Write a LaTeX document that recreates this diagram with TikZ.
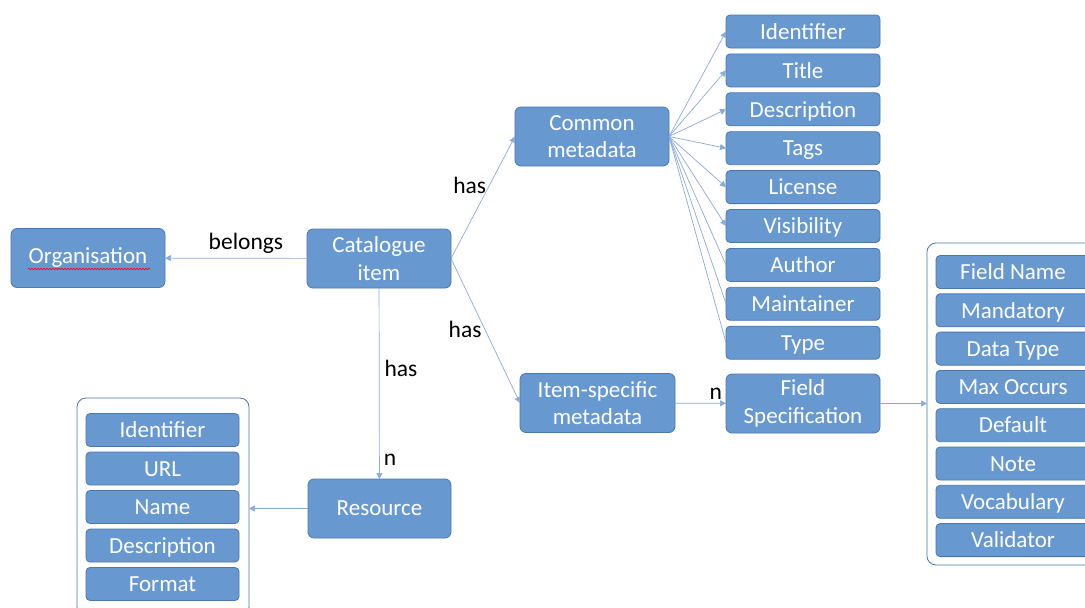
\documentclass[tikz,border=0pt]{standalone}
\usepackage{fontspec}
\setmainfont{Carlito}
\usetikzlibrary{positioning,arrows.meta,decorations.pathmorphing}
\definecolor{boxfill}{HTML}{6799D0}
\definecolor{boxline}{HTML}{4A78AE}
\definecolor{linkblue}{HTML}{8AAAD8}
\begin{document}
\begin{tikzpicture}[x=1pt, y=-1pt,
        box/.style={rectangle, draw=boxline, fill=boxfill, line width=0.8pt, rounded corners=6pt, text=white, minimum width=154pt, minimum height=59pt, align=center, inner sep=2pt, outer sep=0pt, font=\fontsize{23}{27.5}\selectfont},
        field/.style={box, minimum height=33pt, rounded corners=4pt, text height=19.5pt, text depth=4pt},
        group/.style={rectangle, draw=boxline, fill=white, line width=0.8pt, rounded corners=9pt, outer sep=0pt},
        link/.style={draw=linkblue, line width=0.7pt, -{Triangle[length=6pt,width=6pt]}},
        plainlink/.style={draw=linkblue, line width=0.7pt},
        lbl/.style={text=black, inner sep=1pt, font=\fontsize{23.5}{28}\selectfont}
    ]
    \useasboundingbox (0,0) rectangle (1085,608);

    % Main entities
    \node[box] (org) at (88,258) {Organisation};
    \node[box, minimum width=144pt] (item) at (379,258.5) {Catalogue\\item};
    \node[box] (common) at (592,136.5) {Common\\metadata};
    \node[box, minimum width=155pt] (spec) at (597.5,403) {Item-specific\\metadata};
    \node[box] (fspec) at (803,403.5) {Field\\Specification};
    \node[box, minimum width=143pt] (res) at (379.5,508.5) {Resource};

    % spell-check wave under Organisation
    \draw[red, line width=0.6pt, decorate, decoration={snake, amplitude=0.8pt, segment length=3pt}]
        ([xshift=-60pt,yshift=-11pt]org.center) -- ([xshift=62pt,yshift=-11pt]org.center);

    % Common metadata fields
    \node[field] (cid) at (803,31.5) {Identifier};
    \node[field, below=5.9pt of cid] (ctitle) {Title};
    \node[field, below=5.9pt of ctitle] (cdesc) {Description};
    \node[field, below=5.9pt of cdesc] (ctags) {Tags};
    \node[field, below=5.9pt of ctags] (clic) {License};
    \node[field, below=5.9pt of clic] (cvis) {Visibility};
    \node[field, below=5.9pt of cvis] (cauth) {Author};
    \node[field, below=5.9pt of cauth] (cmaint) {Maintainer};
    \node[field, below=5.9pt of cmaint] (ctype) {Type};

    % Resource fields
    \node[group, minimum width=172pt, minimum height=218pt] (resgrp) at (163,507) {};
    \node[field, minimum width=153pt] (rid) at (162.5,430) {Identifier};
    \node[field, minimum width=153pt, below=5.5pt of rid] (rurl) {URL};
    \node[field, minimum width=153pt, below=5.5pt of rurl] (rname) {Name};
    \node[field, minimum width=153pt, below=5.5pt of rname] (rdesc) {Description};
    \node[field, minimum width=153pt, below=5.5pt of rdesc] (rfmt) {Format};

    % Field specification attributes
    \node[group, minimum width=172pt, minimum height=322pt] (fldgrp) at (1013,404) {};
    \node[field] (fname) at (1013,272) {Field Name};
    \node[field, below=5.3pt of fname] (fmand) {Mandatory};
    \node[field, below=5.3pt of fmand] (fdtype) {Data Type};
    \node[field, below=5.3pt of fdtype] (fmax) {Max Occurs};
    \node[field, below=5.3pt of fmax] (fdef) {Default};
    \node[field, below=5.3pt of fdef] (fnote) {Note};
    \node[field, below=5.3pt of fnote] (fvocab) {Vocabulary};
    \node[field, below=5.3pt of fvocab] (fvalid) {Validator};

    % Relationships
    \draw[link] (item) -- node[lbl, pos=0.43, above=3pt] {belongs} (org);
    \draw[link] (item.east) -- node[lbl, pos=0.6, left=2pt] {has} (common.west);
    \draw[link] (item.east) -- node[lbl, pos=0.49, left=2pt] {has} (spec.west);
    \draw[link] (item) -- node[lbl, pos=0.42, right=4pt] {has} node[lbl, pos=0.9, right=3pt] {n} (res);
    \draw[link] (res) -- (res -| resgrp.east);
    \draw[link] (spec) -- node[lbl, pos=0.8, anchor=south, inner sep=0pt, yshift=3pt] {n} (fspec);
    \draw[link] (fspec) -- (fspec -| fldgrp.west);

    \draw[link] (common.east) -- (cid.west);
    \draw[link] (common.east) -- (ctitle.west);
    \draw[link] (common.east) -- (cdesc.west);
    \draw[link] (common.east) -- (ctags.west);
    \draw[link] (common.east) -- (clic.west);
    \draw[link] (common.east) -- (cvis.west);
    \draw[plainlink] (common.east) -- (cauth.west);
    \draw[plainlink] (common.east) -- (cmaint.west);
    \draw[plainlink] (common.east) -- (ctype.west);

\end{tikzpicture}
\end{document}
